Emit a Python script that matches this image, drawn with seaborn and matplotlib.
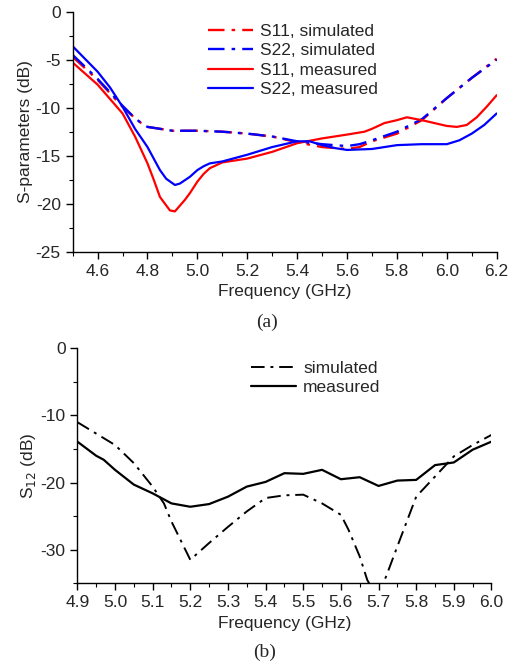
import numpy as np
import pandas as pd
import seaborn as sns
import matplotlib.pyplot as plt
from matplotlib.ticker import MultipleLocator

# ---- panel (a): S11 / S22 ----
f_s11_meas = [4.50, 4.60, 4.70, 4.75, 4.80, 4.825, 4.85, 4.87, 4.89, 4.91, 4.93, 4.95, 4.97, 5.00, 5.025,
              5.05, 5.10, 5.20, 5.30, 5.40, 5.50, 5.60, 5.67, 5.70, 5.75, 5.80, 5.84, 5.90, 5.95, 6.00,
              6.04, 6.08, 6.12, 6.16, 6.20]
s11_meas = [-5.3, -7.6, -10.6, -13.0, -15.8, -17.5, -19.3, -20.0, -20.7, -20.8, -20.2, -19.6, -18.9, -17.7, -16.9,
            -16.3, -15.7, -15.3, -14.6, -13.7, -13.2, -12.8, -12.5, -12.2, -11.6, -11.3, -11.0, -11.3, -11.6, -11.9,
            -12.0, -11.8, -11.0, -9.9, -8.7]

f_s22_meas = [4.50, 4.60, 4.65, 4.70, 4.75, 4.80, 4.825, 4.85, 4.875, 4.91, 4.93, 4.97, 5.00, 5.025, 5.05,
              5.10, 5.20, 5.30, 5.40, 5.45, 5.50, 5.55, 5.60, 5.70, 5.80, 5.90, 6.00, 6.05, 6.10, 6.15, 6.20]
s22_meas = [-3.6, -6.25, -7.9, -9.9, -12.2, -14.1, -15.3, -16.5, -17.4, -18.05, -17.9, -17.2, -16.5, -16.1, -15.8,
            -15.6, -14.9, -14.1, -13.5, -13.5, -13.9, -14.2, -14.4, -14.3, -13.9, -13.8, -13.8, -13.4, -12.7, -11.8, -10.6]

f_sim = [4.50, 4.60, 4.70, 4.75, 4.775, 4.80, 4.90, 5.00, 5.10, 5.20, 5.30, 5.40, 5.50, 5.60, 5.65, 5.70,
         5.80, 5.90, 6.00, 6.10, 6.20]
s11_sim = [-4.7, -7.1, -9.9, -11.1, -11.6, -12.0, -12.4, -12.4, -12.5, -12.7, -13.0, -13.6, -14.1, -14.3, -14.1, -13.5,
           -12.7, -11.3, -9.0, -6.9, -4.9]
s22_sim = [-4.5, -7.0, -9.8, -11.1, -11.6, -12.0, -12.4, -12.4, -12.5, -12.7, -13.0, -13.5, -13.8, -14.0, -13.8, -13.4,
           -12.5, -11.2, -9.0, -6.9, -5.0]

# ---- panel (b): S12 ----
f_s12_sim = [4.90, 5.00, 5.05, 5.10, 5.13, 5.15, 5.20, 5.25, 5.30, 5.35, 5.40, 5.45, 5.50, 5.55, 5.60,
             5.62, 5.65, 5.67, 5.695, 5.72, 5.75, 5.80, 5.85, 5.90, 5.95, 6.00]
s12_sim = [-11.0, -14.4, -17.1, -20.6, -23.1, -25.8, -31.5, -29.0, -26.6, -24.3, -22.3, -21.9, -21.8, -23.1, -24.8,
           -27.0, -31.0, -34.5, -37.0, -34.0, -29.5, -22.1, -19.1, -16.1, -14.4, -12.9]

f_s12_meas = [4.90, 4.95, 4.97, 5.00, 5.05, 5.10, 5.15, 5.20, 5.25, 5.30, 5.35, 5.40, 5.45, 5.50, 5.55,
              5.60, 5.65, 5.70, 5.75, 5.80, 5.85, 5.90, 5.95, 6.00]
s12_meas = [-13.9, -16.0, -16.6, -18.1, -20.3, -21.6, -23.1, -23.6, -23.2, -22.1, -20.6, -19.9, -18.6, -18.7, -18.1,
            -19.5, -19.2, -20.5, -19.7, -19.6, -17.4, -17.0, -15.1, -13.9]

sns.set_style("ticks")
plt.rcParams['font.family'] = ['Liberation Sans', 'DejaVu Sans']
plt.rcParams['font.size'] = 12.5

dashdot = (0, (7, 3, 1.5, 3))
fig = plt.figure(figsize=(5.19, 6.68), dpi=100)
ax1 = fig.add_axes([0.140, 0.6232, 0.817, 0.3593])
ax2 = fig.add_axes([0.149, 0.1268, 0.798, 0.3518])

sns.lineplot(x=f_sim, y=s11_sim, ax=ax1, color='#ff0000', lw=1.7, linestyle=dashdot, label='S11, simulated')
sns.lineplot(x=f_sim, y=s22_sim, ax=ax1, color='#0000ff', lw=1.7, linestyle=dashdot, label='S22, simulated')
sns.lineplot(x=f_s11_meas, y=s11_meas, ax=ax1, color='#ff0000', lw=1.6, label='S11, measured')
sns.lineplot(x=f_s22_meas, y=s22_meas, ax=ax1, color='#0000ff', lw=1.6, label='S22, measured')

sns.lineplot(x=f_s12_sim, y=s12_sim, ax=ax2, color='black', lw=1.4, linestyle=dashdot, label='simulated')
sns.lineplot(x=f_s12_meas, y=s12_meas, ax=ax2, color='black', lw=1.6, label='measured')

ax1.set_xlim(4.5, 6.2)
ax1.set_ylim(-25, 0)
ax1.xaxis.set_major_locator(MultipleLocator(0.2))
ax1.xaxis.set_minor_locator(MultipleLocator(0.1))
ax1.yaxis.set_major_locator(MultipleLocator(5))
ax1.yaxis.set_minor_locator(MultipleLocator(2.5))
ax1.xaxis.set_major_formatter(plt.FuncFormatter(lambda v, p: f"{v:.1f}"))
ax1.yaxis.set_major_formatter(plt.FuncFormatter(lambda v, p: f"{v:.0f}"))
ax1.set_xlabel('Frequency (GHz)')
ax1.set_ylabel('S-parameters (dB)')

ax2.set_xlim(4.9, 6.0)
ax2.set_ylim(-35, 0)
ax2.xaxis.set_major_locator(MultipleLocator(0.1))
ax2.xaxis.set_minor_locator(MultipleLocator(0.05))
ax2.yaxis.set_major_locator(MultipleLocator(10))
ax2.yaxis.set_minor_locator(MultipleLocator(5))
ax2.xaxis.set_major_formatter(plt.FuncFormatter(lambda v, p: f"{v:.1f}"))
ax2.yaxis.set_major_formatter(plt.FuncFormatter(lambda v, p: f"{v:.0f}"))
ax2.set_xlabel('Frequency (GHz)')
ax2.set_ylabel('S$_{12}$ (dB)')

for ax in (ax1, ax2):
    sns.despine(ax=ax)
    for s in ('left', 'bottom'):
        ax.spines[s].set_linewidth(1.0)
        ax.spines[s].set_color('black')
    ax.tick_params(which='major', length=5, width=1.0, color='black', labelsize=12.5)
    ax.tick_params(which='minor', length=3, width=0.8, color='black')
    ax.xaxis.labelpad = 4
    ax.yaxis.labelpad = 2

ax1.legend(loc='upper left', bbox_to_anchor=(0.29, 1.0), frameon=False, handlelength=2.6,
           handletextpad=0.4, labelspacing=0.25, borderaxespad=0.3, fontsize=12.5)
ax2.legend(loc='upper left', bbox_to_anchor=(0.39, 1.0), frameon=False, handlelength=2.6,
           handletextpad=0.4, labelspacing=0.25, borderaxespad=0.3, fontsize=12.5)

fig.text(0.514, 0.518, '(a)', ha='center', va='center', family=['Liberation Serif'], fontsize=14)
fig.text(0.51, 0.024, '(b)', ha='center', va='center', family=['Liberation Serif'], fontsize=14)

plt.savefig('out.png', dpi=100)
